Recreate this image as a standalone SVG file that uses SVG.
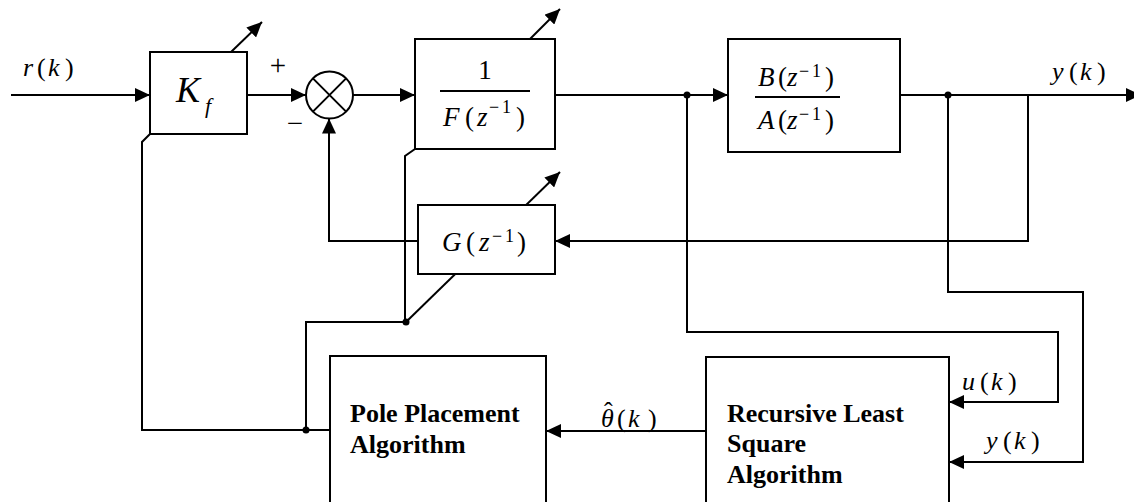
<svg xmlns="http://www.w3.org/2000/svg" width="1134" height="502" viewBox="0 0 1134 502">
<defs>
<marker id="ah" markerUnits="userSpaceOnUse" markerWidth="16" markerHeight="14" refX="15" refY="7" orient="auto">
<path d="M0,0 L15,7 L0,14 z" fill="#000"/>
</marker>
<style>
.ln{fill:none;stroke:#000;stroke-width:2}
.ar{fill:none;stroke:#000;stroke-width:2;marker-end:url(#ah)}
.bx{fill:#fff;stroke:#000;stroke-width:2}
.dot{fill:#000}
.m{font-family:"Liberation Serif","DejaVu Serif",serif;font-size:27px;fill:#000}
.i{font-style:italic}
.sp{font-size:18px}
.b{font-family:"Liberation Serif","DejaVu Serif",serif;font-size:26px;font-weight:bold;fill:#000}
</style>
</defs>
<rect width="1134" height="502" fill="#fff"/>
<g id="connectors">
<path class="ar" d="M11,95 H150"/>
<path class="ar" d="M247,95 H306"/>
<path class="ar" d="M353,95 H415"/>
<path class="ar" d="M555,95 H728"/>
<path class="ar" d="M900,95 H1141"/>
<path class="ar" d="M1028,95 V241 H555"/>
<path class="ar" d="M418,241 H329 V118.5"/>
<path class="ar" d="M687,95 V332 H1058 V402 H949"/>
<path class="ar" d="M948,95 V292 H1083 V462 H949"/>
<path class="ar" d="M706,431 H546"/>
<path class="ln" d="M150,134 L142,142 V430 H330"/>
<path class="ln" d="M306,430 V322 H406"/>
<path class="ln" d="M415,149 L405,156 V322"/>
<path class="ar" d="M406,322 L560,172"/>
<path class="ar" d="M231,52 L262,22"/>
<path class="ar" d="M530,39 L560,9"/>
<circle class="dot" cx="687" cy="95" r="3.5"/>
<circle class="dot" cx="948" cy="95" r="3.5"/>
<circle class="dot" cx="306" cy="430" r="3.5"/>
<circle class="dot" cx="406" cy="322" r="3.5"/>
</g>
<g id="kf">
<rect class="bx" x="150" y="52" width="97" height="82"/>
<text class="m i" x="176" y="102" style="font-size:36px">K</text>
<text class="m i" x="205" y="113" style="font-size:22px">f</text>
</g>
<g id="sum">
<circle class="bx" cx="329.5" cy="95" r="23.5"/>
<path class="ln" d="M312.9,78.4 L346.1,111.6 M346.1,78.4 L312.9,111.6"/>
<text class="m" x="278" y="75" text-anchor="middle" style="font-size:29px">+</text>
<text class="m" x="295" y="133" text-anchor="middle" style="font-size:29px">−</text>
</g>
<g id="f">
<rect class="bx" x="415" y="39" width="140" height="110"/>
<text class="m" x="485" y="79" text-anchor="middle">1</text>
<path class="ln" d="M440,91 H530"/>
<text class="m"><tspan class="i" x="443" y="126">F</tspan><tspan x="465" y="126">(</tspan><tspan class="i" x="477" y="126">z</tspan><tspan class="sp" x="489" y="113">−</tspan><tspan class="sp" x="502" y="113">1</tspan><tspan x="516" y="126">)</tspan></text>
</g>
<g id="plant">
<rect class="bx" x="728" y="39" width="172" height="113"/>
<text class="m"><tspan class="i" x="758" y="86">B</tspan><tspan x="778" y="86">(</tspan><tspan class="i" x="787" y="86">z</tspan><tspan class="sp" x="799" y="77">−</tspan><tspan class="sp" x="812" y="77">1</tspan><tspan x="825" y="86">)</tspan></text>
<path class="ln" d="M755,97 H840"/>
<text class="m"><tspan class="i" x="758" y="129">A</tspan><tspan x="778" y="129">(</tspan><tspan class="i" x="787" y="129">z</tspan><tspan class="sp" x="799" y="120">−</tspan><tspan class="sp" x="812" y="120">1</tspan><tspan x="825" y="129">)</tspan></text>
</g>
<g id="g">
<rect class="bx" x="418" y="205" width="137" height="69"/>
<text class="m"><tspan class="i" x="442" y="251">G</tspan><tspan x="466" y="251">(</tspan><tspan class="i" x="479" y="251">z</tspan><tspan class="sp" x="492" y="242">−</tspan><tspan class="sp" x="505" y="242">1</tspan><tspan x="517" y="251">)</tspan></text>
</g>
<g id="pole">
<rect class="bx" x="330" y="356" width="216" height="160"/>
<text class="b" x="350" y="422">Pole Placement</text>
<text class="b" x="350" y="453">Algorithm</text>
</g>
<g id="rls">
<rect class="bx" x="706" y="357" width="243" height="160"/>
<text class="b" x="727" y="422">Recursive Least</text>
<text class="b" x="727" y="452">Square</text>
<text class="b" x="727" y="483">Algorithm</text>
</g>
<g id="labels">
<text class="m" style="font-size:26px"><tspan class="i" x="23" y="76">r</tspan><tspan x="37" y="76">(</tspan><tspan class="i" x="48" y="76">k</tspan><tspan x="65" y="76">)</tspan></text>
<text class="m" style="font-size:26px"><tspan class="i" x="1052" y="80">y</tspan><tspan x="1069" y="80">(</tspan><tspan class="i" x="1080" y="80">k</tspan><tspan x="1097" y="80">)</tspan></text>
<text class="m" style="font-size:26px"><tspan class="i" x="962" y="390">u</tspan><tspan x="980" y="390">(</tspan><tspan class="i" x="991" y="390">k</tspan><tspan x="1008" y="390">)</tspan></text>
<text class="m" style="font-size:26px"><tspan class="i" x="986" y="449">y</tspan><tspan x="1003" y="449">(</tspan><tspan class="i" x="1014" y="449">k</tspan><tspan x="1031" y="449">)</tspan></text>
<text class="m" style="font-size:26px"><tspan class="i" x="601" y="427">θ</tspan><tspan x="604" y="420">ˆ</tspan><tspan x="617" y="427">(</tspan><tspan class="i" x="628" y="427">k</tspan><tspan x="648" y="427">)</tspan></text>
</g>
</svg>
